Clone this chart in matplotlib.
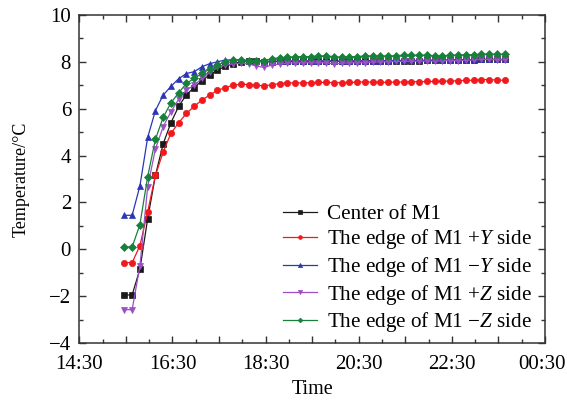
import matplotlib
matplotlib.use('Agg')
import matplotlib.pyplot as plt
import matplotlib.dates as mdates
import matplotlib.transforms as mtransforms
import pandas as pd
import numpy as np

plt.rcParams['font.family'] = ['Liberation Serif', 'DejaVu Serif']
plt.rcParams['mathtext.fontset'] = 'custom'
plt.rcParams['mathtext.it'] = 'Liberation Serif:italic'
plt.rcParams['mathtext.rm'] = 'Liberation Serif'

# sampling: one reading every 10 minutes, starting 15:28
t_start = '2020-01-01 15:28'
n_pts = 50

center = [-1.95, -1.95, -0.85, 1.3, 3.15, 4.5, 5.4, 6.1, 6.6, 6.9,
          7.2, 7.45, 7.65, 7.8, 7.92, 8.0, 8.02, 8.02, 8.0, 8.0,
          8.02, 8.02, 8.03, 8.03, 8.03, 8.03, 8.03, 8.02, 8.02, 8.03,
          8.03, 8.04, 8.04, 8.04, 8.04, 8.05, 8.05, 8.05, 8.05, 8.06,
          8.06, 8.06, 8.07, 8.08, 8.08, 8.09, 8.1, 8.1, 8.1, 8.1]
edge_py = [-0.57, -0.57, 0.15, 1.6, 3.15, 4.15, 4.95, 5.4, 5.8, 6.1,
           6.37, 6.58, 6.78, 6.9, 7.0, 7.04, 7.03, 7.0, 6.97, 7.02,
           7.07, 7.1, 7.1, 7.1, 7.11, 7.12, 7.12, 7.11, 7.11, 7.12,
           7.13, 7.14, 7.13, 7.12, 7.13, 7.13, 7.14, 7.15, 7.15, 7.16,
           7.16, 7.17, 7.18, 7.19, 7.21, 7.21, 7.24, 7.24, 7.22, 7.21]
edge_my = [1.45, 1.45, 2.7, 4.77, 5.92, 6.58, 6.95, 7.28, 7.5, 7.58,
           7.79, 7.92, 8.0, 8.08, 8.08, 8.08, 8.05, 8.03, 8.0, 8.02,
           8.03, 8.04, 8.04, 8.04, 8.04, 8.04, 8.04, 8.03, 8.03, 8.04,
           8.04, 8.05, 8.05, 8.05, 8.05, 8.06, 8.06, 8.06, 8.06, 8.07,
           8.07, 8.07, 8.08, 8.08, 8.09, 8.1, 8.1, 8.11, 8.1, 8.1]
edge_pz = [-2.58, -2.58, -0.72, 2.66, 4.28, 5.23, 5.87, 6.4, 6.8, 7.0,
           7.29, 7.55, 7.76, 7.86, 7.91, 7.94, 7.91, 7.82, 7.76, 7.86,
           7.91, 7.94, 7.96, 7.96, 7.96, 7.96, 7.96, 7.91, 7.94, 7.96,
           7.96, 7.96, 7.99, 8.0, 8.0, 8.02, 8.02, 8.03, 8.03, 8.03,
           8.03, 8.05, 8.05, 8.05, 8.06, 8.08, 8.1, 8.1, 8.09, 8.08]
edge_mz = [0.1, 0.1, 1.05, 3.1, 4.69, 5.63, 6.25, 6.68, 7.08, 7.29,
           7.51, 7.68, 7.86, 8.0, 8.08, 8.08, 8.05, 8.05, 8.05, 8.12,
           8.18, 8.19, 8.22, 8.22, 8.22, 8.25, 8.25, 8.22, 8.19, 8.22,
           8.22, 8.25, 8.25, 8.25, 8.25, 8.26, 8.28, 8.28, 8.28, 8.28,
           8.26, 8.26, 8.28, 8.29, 8.3, 8.3, 8.33, 8.33, 8.32, 8.32]

labels = ['Center of M1',
          r'The edge of M1 +$\it{Y}$ side',
          r'The edge of M1 $-\it{Y}$ side',
          r'The edge of M1 +$\it{Z}$ side',
          r'The edge of M1 $-\it{Z}$ side']
colors = ['#1a1a1a', '#f0191e', '#2a36b4', '#9b4fc4', '#17803a']
markers = ['s', 'o', '^', 'v', 'D']
msizes = [4.0, 4.5, 5.0, 5.0, 4.0]

df = pd.DataFrame({'center': center, 'py': edge_py, 'my': edge_my,
                   'pz': edge_pz, 'mz': edge_mz})
df['t'] = pd.date_range(t_start, periods=n_pts, freq='10min')


def format_func(value, tick_number):
    d = mdates.num2date(value)
    if d.hour % 2 == 0:
        return d.strftime('%H:%M')
    return ''


fig = plt.figure(figsize=(5.67, 4.04), dpi=100)
ax = fig.add_axes([0.140, 0.151, 0.821, 0.812])

for col, lab, c, m, ms in zip(['center', 'py', 'my', 'pz', 'mz'], labels, colors, markers, msizes):
    ax.plot(df['t'], df[col], color=c, marker=m, markersize=ms, linewidth=0.9,
            markeredgewidth=0.5, label=lab)

ax.set_xlim(pd.Timestamp('2020-01-01 14:30'), pd.Timestamp('2020-01-02 00:30'))
ax.set_ylim(-4, 10)

ax.xaxis.set_major_locator(mdates.MinuteLocator(byminute=[30]))
ax.xaxis.set_minor_locator(mdates.MinuteLocator(byminute=[0, 30]))
ax.xaxis.set_major_formatter(plt.FuncFormatter(format_func))
ax.yaxis.set_major_locator(plt.MultipleLocator(2))
ax.yaxis.set_minor_locator(plt.MultipleLocator(1))
ax.yaxis.set_major_formatter(plt.FuncFormatter(lambda v, p: f'{v:.0f}'.replace('-', '\u2212')))

ax.tick_params(which='both', direction='in', top=True, right=True, labelsize=15, color='#333333')
ax.tick_params(which='major', length=5, width=1)
ax.tick_params(which='minor', length=3, width=1)
ax.tick_params(axis='x', pad=9)
ax.tick_params(axis='y', pad=6)
for s in ax.spines.values():
    s.set_linewidth(1.1)
    s.set_color('#333333')

ax.set_xlabel('Time', fontsize=14.5, labelpad=4)
ax.set_ylabel('Temperature/\u00b0C', fontsize=13, labelpad=14)

ax.legend(loc='lower right', bbox_to_anchor=(1.0, -0.012), frameon=False, fontsize=15.2,
          handlelength=1.6, handletextpad=0.5, labelspacing=0.17, markerscale=0.6,
          borderaxespad=0.2)

# last time label sits against the figure edge, nudge it left a bit
fig.canvas.draw()
last = ax.get_xticklabels()[-1]
last.set_transform(last.get_transform() + mtransforms.ScaledTranslation(-3 / 100, 0, fig.dpi_scale_trans))

plt.savefig('out.png', dpi=100)
